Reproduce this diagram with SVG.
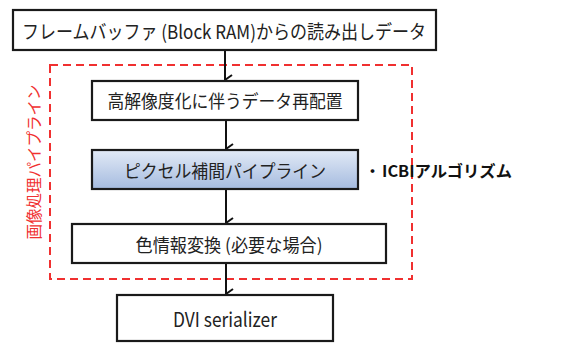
<svg xmlns="http://www.w3.org/2000/svg" width="574" height="344" viewBox="0 0 574 344">
<defs>
<linearGradient id="blue" x1="0" y1="0" x2="0" y2="1">
<stop offset="0" stop-color="#e2eaf6"/>
<stop offset="1" stop-color="#a5bbdf"/>
</linearGradient>
<marker id="arr" viewBox="0 0 12 12" refX="6" refY="11" markerWidth="12" markerHeight="12" markerUnits="userSpaceOnUse" orient="auto-start-reverse">
<path d="M1,4 L6,11 L11,4" fill="none" stroke="#111" stroke-width="2"/>
</marker>
</defs>
<style>
.box{fill:#fff;stroke:#1a1a1a;stroke-width:2.2}
.t{font-family:"Noto Sans CJK JP","Liberation Sans",sans-serif;fill:#222;text-anchor:middle;dominant-baseline:central}
.c{stroke:#111;stroke-width:2;fill:none;marker-end:url(#arr)}
</style>
<rect width="574" height="344" fill="#fff"/>
<g id="pipeline-frame">
<rect x="50" y="65" width="362" height="214" fill="none" stroke="#f03030" stroke-width="2" stroke-dasharray="8,5"/>
<text x="33" y="162" transform="rotate(-90 33 162)" font-family="'Noto Sans CJK JP',sans-serif" font-size="15.5" fill="#f03030" text-anchor="middle" dominant-baseline="central">画像処理パイプライン</text>
</g>
<g id="connectors">
<line class="c" x1="225" y1="50" x2="225" y2="80"/>
<line class="c" x1="226" y1="120" x2="226" y2="149"/>
<line class="c" x1="226" y1="189" x2="226" y2="223"/>
<line class="c" x1="226" y1="263" x2="226" y2="294"/>
</g>
<g id="n1">
<rect class="box" x="13" y="10" width="423" height="40"/>
<text class="t" x="224" y="30" font-size="19" textLength="404" lengthAdjust="spacingAndGlyphs">フレームバッファ (Block RAM)からの読み出しデータ</text>
</g>
<g id="n2">
<rect class="box" x="92" y="81" width="266" height="39"/>
<text class="t" x="225" y="100" font-size="18" textLength="235" lengthAdjust="spacingAndGlyphs">高解像度化に伴うデータ再配置</text>
</g>
<g id="n3">
<rect class="box" x="92" y="150" width="266" height="39" style="fill:url(#blue)"/>
<text class="t" x="225" y="169.5" font-size="18" textLength="202" lengthAdjust="spacingAndGlyphs">ピクセル補間パイプライン</text>
</g>
<g id="note">
<text x="365" y="170" font-family="'Noto Sans CJK JP',sans-serif" font-size="15" font-weight="bold" fill="#111" dominant-baseline="central">・</text>
<text x="382" y="170" font-family="'Noto Sans CJK JP',sans-serif" font-size="16" font-weight="bold" fill="#111" dominant-baseline="central" textLength="130" lengthAdjust="spacingAndGlyphs">ICBIアルゴリズム</text>
</g>
<g id="n4">
<rect class="box" x="72" y="224" width="314" height="39"/>
<text class="t" x="229" y="243.5" font-size="18" textLength="187" lengthAdjust="spacingAndGlyphs">色情報変換 (必要な場合)</text>
</g>
<g id="n5">
<rect class="box" x="117" y="295" width="216" height="46"/>
<text class="t" x="225" y="318" font-size="20" font-family="'Open Sans',sans-serif" textLength="104" lengthAdjust="spacingAndGlyphs">DVI serializer</text>
</g>
</svg>
